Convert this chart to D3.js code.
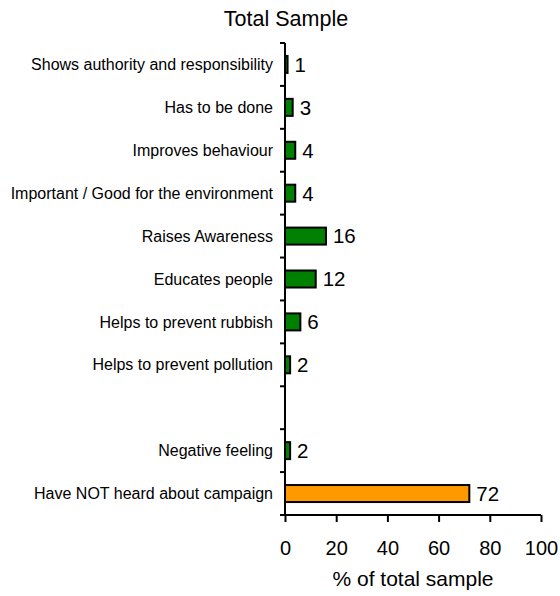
<!DOCTYPE html>
<html>
<head>
<meta charset="utf-8">
<script src="https://cdn.jsdelivr.net/npm/d3@7"></script>
<style>
  body { margin: 0; background: #fff; }
  text { font-family: "Liberation Sans", Arial, sans-serif; fill: #000; }
</style>
</head>
<body>
<div id="chart"></div>
<script>
// categories top to bottom ("" is the empty gap row)
const categories = [
    "Shows authority and responsibility",
    "Has to be done",
    "Improves behaviour ",
    "Important / Good for the environment",
    "Raises Awareness",
    "Educates people",
    "Helps to prevent rubbish",
    "Helps to prevent pollution",
    "",
    "Negative feeling",
    "Have NOT heard about campaign"
];
const values = [1, 3, 4, 4, 16, 12, 6, 2, null, 2, 72];
const barColors = ["#008000", "#008000", "#008000", "#008000", "#008000", "#008000",
    "#008000", "#008000", null, "#008000", "#FF9900"];
const xTicks = [0, 20, 40, 60, 80, 100];

const width = 560, height = 596;
const margin = { top: 43, right: 19, bottom: 81, left: 285 };

const svg = d3.select("#chart").append("svg")
    .attr("width", width)
    .attr("height", height);

const chart = svg.append("g")
    .attr("transform", `translate(${margin.left}, ${margin.top})`);

const w = width - margin.left - margin.right;
const h = height - margin.top - margin.bottom;

const x = d3.scaleLinear().domain([0, 100]).range([0, w]);
const y = d3.scaleBand().domain(d3.range(categories.length)).range([0, h]).paddingInner(0).paddingOuter(0);

const barH = 17;
const rows = categories.map((c, i) => ({ i, c, v: values[i], col: barColors[i] }));

// bars
chart.selectAll("rect.bar")
    .data(rows.filter(d => d.v != null))
    .join("rect")
    .attr("class", "bar")
    .attr("x", x(0))
    .attr("y", d => y(d.i) + y.bandwidth() / 2 - barH / 2)
    .attr("width", d => x(d.v) - x(0))
    .attr("height", barH)
    .attr("fill", d => d.col)
    .attr("stroke", "#000")
    .attr("stroke-width", 2);

// value labels
chart.selectAll("text.val")
    .data(rows.filter(d => d.v != null))
    .join("text")
    .attr("class", "val")
    .attr("x", d => x(d.v) + 7)
    .attr("y", d => y(d.i) + y.bandwidth() / 2)
    .attr("dy", "0.36em")
    .style("font-size", "20.5px")
    .text(d => d.v);

// category labels
chart.selectAll("text.cat")
    .data(rows)
    .join("text")
    .attr("class", "cat")
    .attr("x", -12)
    .attr("y", d => y(d.i) + y.bandwidth() / 2)
    .attr("dy", "0.35em")
    .attr("text-anchor", "end")
    .style("font-size", "16px")
    .text(d => d.c);

// y axis line and ticks at band boundaries
const bounds = d3.range(categories.length + 1).map(k => k * y.step());
chart.append("line")
    .attr("x1", 0).attr("x2", 0)
    .attr("y1", 0).attr("y2", h)
    .attr("stroke", "#000").attr("stroke-width", 2);
chart.selectAll("line.ytick")
    .data(bounds)
    .join("line")
    .attr("class", "ytick")
    .attr("x1", -5).attr("x2", 0)
    .attr("y1", d => d).attr("y2", d => d)
    .attr("stroke", "#000").attr("stroke-width", 2);

// x axis
const xAxis = chart.append("g")
    .attr("transform", `translate(0, ${h})`)
    .call(d3.axisBottom(x).tickValues(xTicks).tickSize(7).tickPadding(19));
xAxis.select(".domain").attr("stroke-width", 2).attr("d", `M0,0H${w}`);
xAxis.selectAll(".tick line").attr("stroke-width", 2);
xAxis.selectAll(".tick text")
    .style("font-size", "20px")
    .style("font-family", "'Liberation Sans', Arial, sans-serif")
    .attr("fill", "#000");

// axis title
svg.append("text")
    .attr("x", margin.left + x(50))
    .attr("y", 586)
    .attr("text-anchor", "middle")
    .style("font-size", "21px")
    .text("% of total sample");

// chart title
svg.append("text")
    .attr("x", 286)
    .attr("y", 26)
    .attr("text-anchor", "middle")
    .style("font-size", "21.5px")
    .text("Total Sample");
</script>
</body>
</html>
